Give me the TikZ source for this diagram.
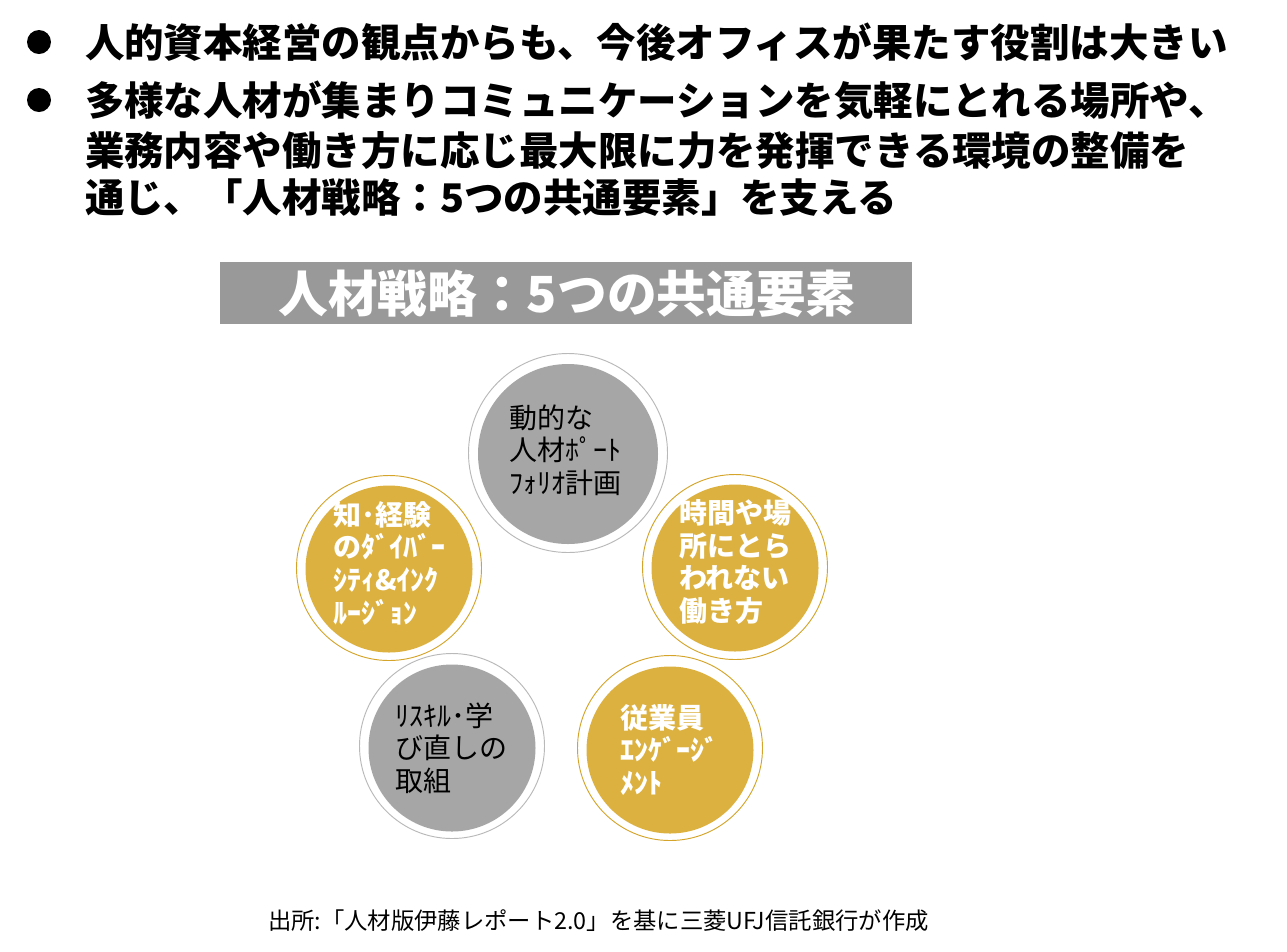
\documentclass[tikz,border=0pt]{standalone}
\usepackage{fontspec}
\newfontfamily\jp{Noto Sans CJK JP}
\definecolor{gold}{RGB}{220,177,64}
\definecolor{goldring}{RGB}{212,165,42}
\definecolor{cgray}{RGB}{166,166,166}
\definecolor{ringgray}{RGB}{185,185,185}
\definecolor{titlegray}{RGB}{153,153,153}
\begin{document}
\begin{tikzpicture}[x=0.75pt,y=-0.75pt,
  every node/.style={inner sep=0pt, outer sep=0pt},
  bodytext/.style={anchor=west, font=\jp\bfseries\fontsize{29.6}{35}\selectfont},
  bulletdot/.style={circle, fill=black, minimum size=18pt},
  ringbig/.style={circle, draw=#1, line width=0.7pt, minimum size=149.25pt},
  ringsmall/.style={circle, draw=#1, line width=0.7pt, minimum size=138.75pt},
  fillbig/.style={circle, fill=#1, minimum size=135pt},
  fillsmall/.style={circle, fill=#1, minimum size=125.25pt},
  graytext/.style={anchor=west, align=left, text=black, font=\jp\fontsize{21}{24.5}\selectfont},
  goldtext/.style={anchor=west, align=left, text=white, font=\jp\bfseries\fontsize{21}{24.5}\selectfont}
]
\useasboundingbox (0,0) rectangle (1287,951);
\fill[white] (0,0) rectangle (1287,951);

% bullets and body text
\node[bulletdot] (b1) at (39,42) {};
\node[bulletdot] (b2) at (39,100) {};
\node[bodytext] (l1) at (85,42) {人的資本経営の観点からも、今後オフィスが果たす役割は大きい};
\node[bodytext] (l2) at (85,100) {多様な人材が集まりコミュニケーションを気軽にとれる場所や、};
\node[bodytext] (l3) at (85,151) {業務内容や働き方に応じ最大限に力を発揮できる環境の整備を};
\node[bodytext] (l4) at (85,198) {通じ、「人材戦略：5つの共通要素」を支える};

% title box
\node[fill=titlegray, minimum width=519pt, minimum height=46.5pt] (title) at (566,293) {};
\node[text=white, font=\jp\bfseries\fontsize{37.3}{40}\selectfont] (titletext) at (567,294) {人材戦略：5つの共通要素};

% circles
\node[ringbig=ringgray] (c1r) at (568,453) {};
\node[fillbig=cgray] (c1) at (568,454) {};
\node[graytext] (t1) at (509,450) {動的な\\人材ﾎﾟｰﾄ\\ﾌｫﾘｵ計画};

\node[ringsmall=goldring] (c2r) at (389,568) {};
\node[fillsmall=gold] (c2) at (389,569) {};
\node[goldtext] (t2) at (333,563) {知･経験\\のﾀﾞｲﾊﾞｰ\\ｼﾃｨ\&ｲﾝｸ\\ﾙｰｼﾞｮﾝ};

\node[ringsmall=goldring] (c3r) at (735,567) {};
\node[fillsmall=gold] (c3) at (735,568) {};
\node[goldtext] (t3) at (679,562) {時間や場\\所にとら\\われない\\働き方};

\node[ringsmall=ringgray] (c4r) at (452,746) {};
\node[fillsmall=cgray] (c4) at (452,748) {};
\node[graytext] (t4) at (395,748) {ﾘｽｷﾙ･学\\び直しの\\取組};

\node[ringsmall=goldring] (c5r) at (670,748) {};
\node[fillsmall=gold] (c5) at (670,750) {};
\node[goldtext] (t5) at (620,750) {従業員\\ｴﾝｹﾞｰｼﾞ\\ﾒﾝﾄ};

% source
\node[anchor=west, font=\jp\fontsize{17.5}{20}\selectfont] (src) at (268,921) {出所:「人材版伊藤レポート2.0」を基に三菱UFJ信託銀行が作成};
\end{tikzpicture}
\end{document}
